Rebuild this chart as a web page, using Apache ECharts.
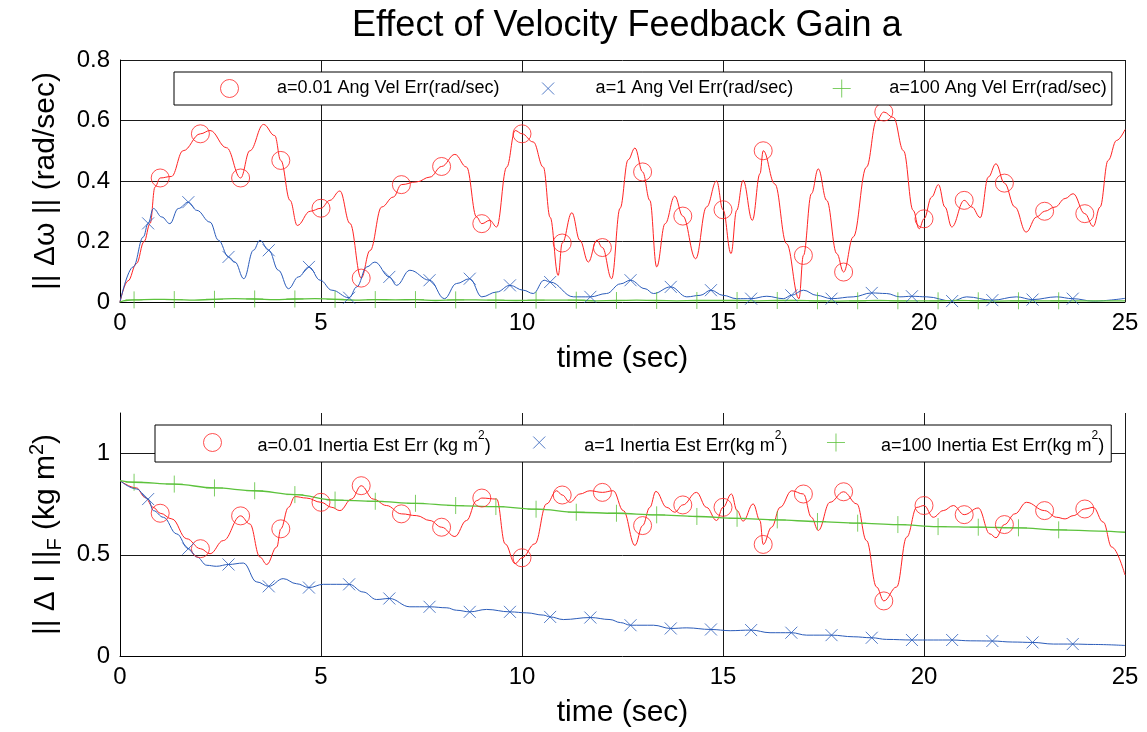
<!DOCTYPE html>
<html><head><meta charset="utf-8">
<script src="https://cdn.jsdelivr.net/npm/echarts@6/dist/echarts.min.js"></script>
<style>html,body{margin:0;padding:0;background:#fff}#c{width:1147px;height:732px}</style>
</head><body><div id="c"></div>
<script>
// ---------------- DATA ----------------
const titleText = 'Effect of Velocity Feedback Gain a';
const xName = 'time (sec)';
const topYName = '|| \u0394\u03c9 || (rad/sec)';
const bottomYName = '{t||| \u0394 I ||}{sub|F}{t| (kg m}{sup|2}{t|)}';

const topNames = ['a=0.01 Ang Vel Err(rad/sec)', 'a=1 Ang Vel Err(rad/sec)', 'a=100 Ang Vel Err(rad/sec)'];
const bottomNames = ['a=0.01 Inertia Est Err (kg m^2)', 'a=1 Inertia Est Err(kg m^2)', 'a=100 Inertia Est Err(kg m^2)'];

// marker times
const redMarkT = [1,2,3,4,5,6,7,8,9,10,11,12,13,14,15,16,17,18,19,20,21,22,23,24];
const blueMarkT = [0.7,1.7,2.7,3.7,4.7,5.7,6.7,7.7,8.7,9.7,10.7,11.7,12.7,13.7,14.7,15.7,16.7,17.7,18.7,19.7,20.7,21.7,22.7,23.7];
const greenMarkT = [0.35,1.35,2.35,3.35,4.35,5.35,6.35,7.35,8.35,9.35,10.35,11.35,12.35,13.35,14.35,15.35,16.35,17.35,18.35,19.35,20.35,21.35,22.35,23.35];

// ---- top plot: angular velocity error ----
const angRedCurve = [[0,0],[0.2,0.07],[0.41,0.127],[0.6,0.2],[0.75,0.26],[0.87,0.38],[1.28,0.415],[1.57,0.5],[2.24,0.567],[2.65,0.51],[3.23,0.5],[3.57,0.587],[3.85,0.55],[4.23,0.336],[4.41,0.253],[4.73,0.3],[5.22,0.336],[5.47,0.367],[5.72,0.26],[6.22,0.17],[6.51,0.314],[6.8,0.347],[7.38,0.397],[7.71,0.413],[8.33,0.488],[8.62,0.446],[8.87,0.281],[9.2,0.27],[9.37,0.248],[9.62,0.446],[9.83,0.567],[10.28,0.529],[10.53,0.446],[10.7,0.28],[10.9,0.088],[11.24,0.295],[11.44,0.204],[11.65,0.132],[11.86,0.204],[12.23,0.077],[12.44,0.31],[12.64,0.47],[12.81,0.509],[13.18,0.336],[13.35,0.116],[13.56,0.259],[13.8,0.35],[14.32,0.143],[14.59,0.314],[14.84,0.4],[15.2,0.16],[15.34,0.303],[15.5,0.402],[15.73,0.27],[15.92,0.424],[16.29,0.39],[16.58,0.193],[16.89,0.011],[17.2,0.358],[17.37,0.44],[17.58,0.336],[17.83,0.16],[18.24,0.215],[18.57,0.446],[18.82,0.6],[19.24,0.61],[19.49,0.5],[19.73,0.303],[19.88,0.242],[20.19,0.347],[20.36,0.388],[20.52,0.314],[20.69,0.248],[21.19,0.314],[21.4,0.279],[21.6,0.413],[21.79,0.457],[22.26,0.314],[22.54,0.231],[22.8,0.281],[23.26,0.314],[23.51,0.342],[23.71,0.358],[24.21,0.25],[24.38,0.314],[24.58,0.468],[24.79,0.534],[25,0.57]];
const angRedMarkV = [0.41,0.556,0.41,0.468,0.31,0.079,0.388,0.448,0.259,0.556,0.195,0.18,0.43,0.284,0.305,0.5,0.154,0.099,0.628,0.275,0.336,0.393,0.3,0.292];

const angBlueCurve = [[0,0],[0.33,0.116],[0.58,0.215],[0.83,0.309],[1.04,0.281],[1.24,0.259],[1.45,0.309],[1.91,0.303],[2.24,0.264],[2.45,0.204],[2.86,0.132],[3.08,0.077],[3.32,0.171],[3.48,0.204],[3.94,0.105],[4.19,0.044],[4.44,0.083],[4.98,0.072],[5.27,0.039],[5.89,0.05],[6.14,0.116],[6.34,0.132],[6.88,0.055],[7.21,0.105],[8.07,0.011],[8.37,0.061],[9.0,0.017],[9.37,0.033],[10.03,0.039],[10.28,0.028],[10.55,0.072],[11.28,0.017],[12.1,0.028],[12.45,0.06],[13.06,0.044],[13.27,0.028],[14.1,0.017],[14.43,0.022],[15.0,0.022],[15.34,0.011],[16.09,0.019],[16.5,0.011],[17.0,0.039],[17.33,0.022],[18.24,0.017],[19.07,0.028],[19.4,0.017],[20.07,0.017],[21.06,0.017],[22.3,0.017],[23.3,0.017],[24.21,0.003],[25,0.012]];
const angBlueMarkV = [0.26,0.33,0.149,0.171,0.116,0.014,0.083,0.072,0.077,0.055,0.066,0.017,0.072,0.05,0.039,0.011,0.022,0.011,0.03,0.019,0.003,0.006,0.008,0.011];

const angGreenCurve = [[0,0],[0.15,0.005],[0.85,0.009],[1.85,0.006],[2.85,0.011],[3.85,0.008],[4.85,0.011],[5.85,0.006],[6.85,0.007],[7.85,0.005],[8.85,0.007],[9.85,0.005],[10.85,0.006],[11.85,0.004],[12.85,0.006],[13.85,0.004],[14.85,0.005],[15.85,0.004],[16.85,0.005],[17.85,0.003],[18.85,0.005],[19.85,0.004],[20.85,0.005],[21.85,0.003],[22.85,0.004],[23.85,0.004],[25,0.004]];
const angGreenMarkV = [0.007,0.008,0.009,0.010,0.010,0.009,0.008,0.008,0.007,0.006,0.006,0.006,0.005,0.005,0.005,0.005,0.005,0.004,0.004,0.004,0.004,0.004,0.004,0.004];

// ---- bottom plot: inertia estimate error ----
const inRedCurve = [[0,0.866],[0.41,0.83],[0.62,0.784],[0.83,0.734],[1.29,0.677],[1.66,0.579],[2.24,0.505],[2.57,0.57],[3.23,0.652],[3.48,0.489],[3.65,0.452],[3.9,0.538],[4.19,0.734],[4.35,0.787],[4.64,0.78],[5.27,0.734],[5.47,0.718],[5.76,0.775],[6.3,0.775],[6.63,0.743],[7.38,0.693],[7.71,0.669],[8.33,0.59],[8.62,0.669],[8.87,0.767],[9.37,0.775],[9.58,0.554],[9.83,0.456],[10.32,0.554],[10.61,0.751],[10.86,0.816],[11.19,0.759],[11.44,0.8],[11.69,0.816],[12.27,0.816],[12.52,0.718],[12.81,0.546],[13.18,0.734],[13.33,0.813],[13.6,0.734],[13.8,0.71],[14.34,0.808],[14.59,0.734],[14.84,0.669],[15.21,0.8],[15.35,0.718],[15.5,0.666],[15.75,0.751],[15.92,0.669],[16.21,0.636],[16.42,0.734],[16.71,0.816],[17.2,0.685],[17.37,0.62],[17.66,0.759],[18.33,0.751],[18.57,0.57],[18.82,0.341],[19.32,0.341],[19.57,0.587],[19.82,0.734],[20.23,0.685],[20.48,0.718],[20.73,0.743],[21.35,0.731],[21.64,0.603],[21.79,0.584],[22.26,0.702],[22.55,0.759],[23.3,0.685],[23.51,0.677],[23.71,0.693],[24.21,0.734],[24.46,0.661],[24.67,0.538],[25,0.4]];
const inRedMarkV = [0.705,0.53,0.692,0.628,0.759,0.841,0.702,0.636,0.78,0.485,0.795,0.808,0.644,0.746,0.734,0.551,0.8,0.811,0.272,0.743,0.698,0.649,0.718,0.726];

const inBlueCurve = [[0,0.866],[0.41,0.825],[0.83,0.718],[1.08,0.685],[1.41,0.603],[1.91,0.489],[2.16,0.448],[2.4,0.443],[3.07,0.459],[3.4,0.366],[4.06,0.382],[4.39,0.357],[5.06,0.354],[6.05,0.316],[6.38,0.279],[7.21,0.243],[8.13,0.238],[8.37,0.226],[9.12,0.23],[10.12,0.213],[10.53,0.202],[11.03,0.18],[12.19,0.18],[12.45,0.165],[13.27,0.152],[14.1,0.139],[15.18,0.125],[16.17,0.115],[17.08,0.103],[18.24,0.095],[19.07,0.082],[20.23,0.079],[21.15,0.075],[22.2,0.069],[23.22,0.059],[24.21,0.057],[25,0.052]];
const inBlueMarkV = [0.775,0.53,0.452,0.344,0.338,0.354,0.284,0.243,0.218,0.218,0.193,0.19,0.152,0.136,0.131,0.128,0.115,0.103,0.09,0.079,0.079,0.074,0.067,0.059];

const inGreenCurve = [[0,0.866],[24.35,0.617],[25,0.611]];
const inGreenMarkV = [0.858,0.849,0.83,0.816,0.797,0.77,0.764,0.754,0.743,0.738,0.725,0.71,0.705,0.697,0.689,0.68,0.672,0.664,0.656,0.649,0.639,0.636,0.633,0.623];

// ---------------- STYLE ----------------
const FONT = '"Liberation Sans", Arial, Helvetica, sans-serif';
const RED = '#ff2424', BLUE = '#2b5cba', GREEN = '#5cc23c';
const SYM_X = 'path://M0,0M18,18M3,3L15,15M15,3L3,15';
const SYM_PLUS = 'path://M9,0L9,18M0,9L18,9';

function pairs(t, v) { return t.map((x, i) => [x, v[i]]); }
function merged(curve, t, v) { return curve.concat(pairs(t, v)).sort((a, b) => a[0] - b[0]); }

function lineSeries(id, idx, data, color, w) {
  return { id: id, name: id, type: 'line', xAxisIndex: idx, yAxisIndex: idx, data: data,
    symbol: 'none', smooth: 0.4, smoothMonotone: 'x', silent: true, z: 2,
    lineStyle: { color: color, width: w || 1 }, itemStyle: { color: color } };
}
function markSeries(name, idx, data, color, symbol, size) {
  return { name: name, type: 'scatter', xAxisIndex: idx, yAxisIndex: idx, data: data,
    symbol: symbol, symbolSize: size, silent: true, z: 3,
    itemStyle: { color: 'rgba(0,0,0,0)', borderColor: color, borderWidth: 1 } };
}
function xAxisFor(i) {
  return { type: 'value', gridIndex: i, min: 0, max: 25, interval: 5,
    name: xName, nameLocation: 'middle', nameGap: 42,
    nameTextStyle: { fontSize: 30, color: '#000', fontFamily: FONT },
    axisLine: { show: true, onZero: false, lineStyle: { color: '#000', width: 1 } },
    axisTick: { show: false },
    axisLabel: { fontSize: 24, color: '#000', fontFamily: FONT, margin: 9 },
    splitLine: { show: true, showMinLine: false, lineStyle: { color: '#1a1a1a', width: 1 } } };
}

const supRich = {
  t: { fontSize: 18, padding: [7, 0, 0, 0], verticalAlign: 'bottom', color: '#000', fontFamily: FONT },
  sup: { fontSize: 12, verticalAlign: 'top', color: '#000', fontFamily: FONT }
};

const option = {
  animation: false,
  backgroundColor: '#fff',
  title: { text: titleText, left: 347, top: 3,
    textStyle: { fontSize: 36, fontWeight: 'normal', color: '#000', fontFamily: FONT } },
  grid: [
    { left: 120, right: 22, top: 60, height: 242 },
    { left: 120, right: 22, top: 413, height: 243 }
  ],
  legend: [
    { data: topNames, left: 174, top: 72, orient: 'horizontal', itemGap: 39, itemWidth: 85, itemHeight: 18,
      padding: [7, 5, 7, 46], borderColor: '#000', borderWidth: 1, backgroundColor: '#fff', borderRadius: 0,
      selectedMode: false, itemStyle: { borderWidth: 1 },
      textStyle: { fontSize: 18, color: '#000', fontFamily: FONT } },
    { data: bottomNames, left: 155, top: 425, orient: 'horizontal', itemGap: 39, itemWidth: 80, itemHeight: 18,
      padding: [5, 7, 7, 48], borderColor: '#000', borderWidth: 1, backgroundColor: '#fff', borderRadius: 0,
      selectedMode: false, itemStyle: { borderWidth: 1 },
      formatter: n => '{t|' + n.replace('^2', '}{sup|2}{t|') + '}',
      textStyle: { fontSize: 18, color: '#000', fontFamily: FONT, rich: supRich } }
  ],
  xAxis: [xAxisFor(0), xAxisFor(1)],
  yAxis: [
    { type: 'value', gridIndex: 0, min: 0, max: 0.8, interval: 0.2,
      name: topYName, nameLocation: 'middle', nameGap: 59, nameRotate: 90,
      nameTextStyle: { fontSize: 30, color: '#000', fontFamily: FONT },
      axisLine: { show: true, lineStyle: { color: '#000', width: 1 } }, axisTick: { show: false },
      axisLabel: { fontSize: 24, color: '#000', fontFamily: FONT, margin: 10 },
      splitLine: { show: true, showMinLine: false, lineStyle: { color: '#1a1a1a', width: 1 } } },
    { type: 'value', gridIndex: 1, min: 0, max: 1.2, interval: 0.5,
      name: bottomYName, nameLocation: 'middle', nameGap: 55, nameRotate: 90,
      nameTextStyle: { fontSize: 30, color: '#000', fontFamily: FONT,
        rich: {
          t: { fontSize: 30, padding: [4, 0, 4, 0], color: '#000', fontFamily: FONT },
          sub: { fontSize: 20, verticalAlign: 'bottom', color: '#000', fontFamily: FONT },
          sup: { fontSize: 20, verticalAlign: 'top', color: '#000', fontFamily: FONT }
        } },
      axisLine: { show: true, lineStyle: { color: '#000', width: 1 } }, axisTick: { show: false },
      axisLabel: { fontSize: 24, color: '#000', fontFamily: FONT, margin: 10, showMaxLabel: false },
      splitLine: { show: true, showMinLine: false, showMaxLine: false, lineStyle: { color: '#1a1a1a', width: 1 } } }
  ],
  series: [
    lineSeries('angRedLine', 0, merged(angRedCurve, redMarkT, angRedMarkV), RED),
    lineSeries('angBlueLine', 0, merged(angBlueCurve, blueMarkT, angBlueMarkV), BLUE),
    lineSeries('angGreenLine', 0, merged(angGreenCurve, greenMarkT, angGreenMarkV), GREEN, 1.3),
    markSeries(topNames[0], 0, pairs(redMarkT, angRedMarkV), RED, 'circle', 18),
    markSeries(topNames[1], 0, pairs(blueMarkT, angBlueMarkV), BLUE, SYM_X, 18),
    markSeries(topNames[2], 0, pairs(greenMarkT, angGreenMarkV), GREEN, SYM_PLUS, 17),

    lineSeries('inRedLine', 1, merged(inRedCurve, redMarkT, inRedMarkV), RED),
    lineSeries('inBlueLine', 1, merged(inBlueCurve, blueMarkT, inBlueMarkV), BLUE),
    lineSeries('inGreenLine', 1, merged(inGreenCurve, greenMarkT, inGreenMarkV), GREEN, 1.3),
    markSeries(bottomNames[0], 1, pairs(redMarkT, inRedMarkV), RED, 'circle', 18),
    markSeries(bottomNames[1], 1, pairs(blueMarkT, inBlueMarkV), BLUE, SYM_X, 18),
    markSeries(bottomNames[2], 1, pairs(greenMarkT, inGreenMarkV), GREEN, SYM_PLUS, 17)
  ]
};
const chart = echarts.init(document.getElementById('c'), null, { renderer: 'canvas' });
chart.setOption(option);
</script></body></html>
